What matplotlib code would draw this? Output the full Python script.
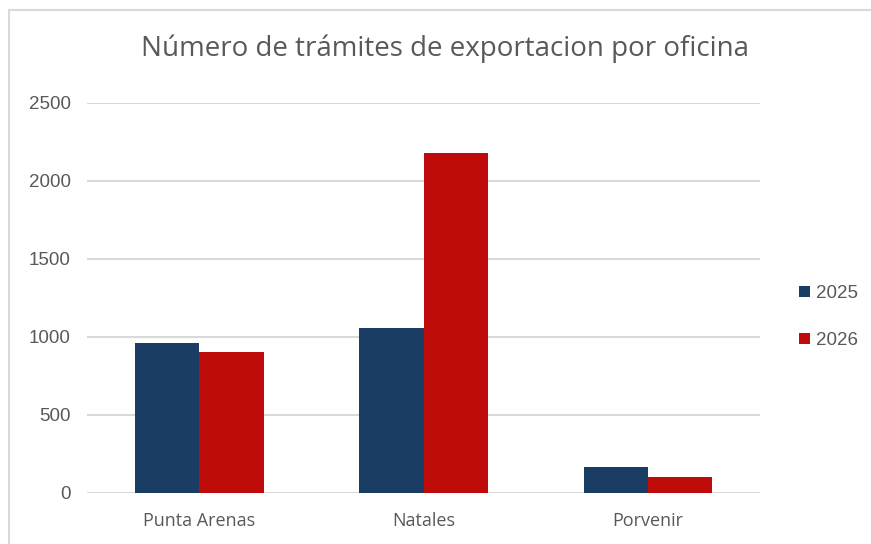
import matplotlib.pyplot as plt
import matplotlib.patches as mpatches
import numpy as np

# datos
oficinas = ['Punta Arenas', 'Natales', 'Porvenir']
anios = ['2025', '2026']
tramites_2025 = [958, 1058, 163]
tramites_2026 = [902, 2176, 99]
ticks_y = [0, 500, 1000, 1500, 2000, 2500]

azul = '#193D63'
rojo = '#C00B0B'
gris = '#595959'

fig = plt.figure(figsize=(8.71, 5.44), dpi=100)
ax = fig.add_axes([0.1002, 0.0943, 0.7724, 0.7169])

x = np.arange(len(oficinas))
ancho = 0.287
ax.bar(x - ancho / 2, tramites_2025, ancho, color=azul, label=anios[0], zorder=3)
ax.bar(x + ancho / 2, tramites_2026, ancho, color=rojo, label=anios[1], zorder=3)

ax.set_xlim(-0.5, 2.5)
ax.set_ylim(0, 2500)
ax.set_yticks(ticks_y)
ax.set_yticklabels([str(t) for t in ticks_y], fontfamily='Liberation Sans', fontsize=13.5, color=gris)
ax.set_xticks(x)
ax.set_xticklabels(oficinas, fontfamily='Open Sans', fontsize=13, color=gris)
ax.tick_params(length=0)
ax.tick_params(axis='y', pad=12)
ax.tick_params(axis='x', pad=14)
ax.grid(axis='y', color='#D9D9D9', linewidth=1.5, zorder=0)
for s in ax.spines.values():
    s.set_visible(False)

fig.text(0.511, 0.91, 'Número de trámites de exportacion por oficina',
         ha='center', va='center', fontfamily='Open Sans', fontsize=20, color=gris)

leg = fig.legend(loc='center left', bbox_to_anchor=(0.907, 0.417), frameon=False,
                 prop={'family': 'Liberation Sans', 'size': 13.5},
                 handlelength=0.57, handleheight=0.57, handletextpad=0.3,
                 labelspacing=1.6, borderpad=0)
for t in leg.get_texts():
    t.set_color(gris)

# borde del gráfico
borde = mpatches.Rectangle((9 / 871, -0.5), 2, 1.5 - 10 / 544, transform=fig.transFigure,
                           fill=False, edgecolor='#D9D9D9', linewidth=1.5)
fig.add_artist(borde)

fig.savefig('out.png', dpi=100)
